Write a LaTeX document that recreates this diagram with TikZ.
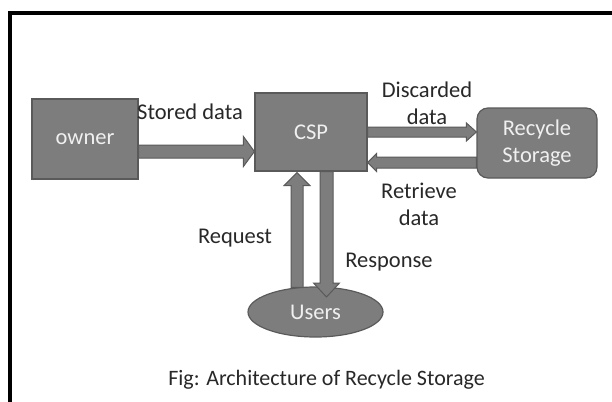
\documentclass[tikz,border=0pt]{standalone}
\usepackage{fontspec}
\setmainfont{Carlito}
\usetikzlibrary{calc,shapes.geometric}
\definecolor{boxgray}{RGB}{125,125,125}
\definecolor{boxedge}{RGB}{90,90,90}
\definecolor{txtdark}{RGB}{40,40,40}
\tikzset{
  blk/.style={draw=boxedge, fill=boxgray, line width=1.2pt, text=white!94!black, font=\fontsize{22.5}{27}\selectfont, inner sep=0pt, align=center},
  lbl/.style={text=txtdark, font=\fontsize{22.5}{27}\selectfont, inner sep=0pt, align=center},
  arr/.style={draw=boxedge, fill=boxgray, line width=1pt, line join=miter},
}
% block arrow: #1 start, #2 end, #3 half shaft, #4 half head, #5 head length
\newcommand\blockarrow[5]{%
  \coordinate (ba-s) at #1;
  \coordinate (ba-e) at #2;
  \coordinate (ba-c) at ($(ba-e)!#5!(ba-s)$);
  \path[arr] ($(ba-s)!#3!90:(ba-e)$) -- ($(ba-c)!#3!90:(ba-e)$) -- ($(ba-c)!#4!90:(ba-e)$)
    -- (ba-e) -- ($(ba-c)!#4!-90:(ba-e)$) -- ($(ba-c)!#3!-90:(ba-e)$) -- ($(ba-s)!#3!-90:(ba-e)$) -- cycle;
}
\begin{document}
\begin{tikzpicture}[x=1pt,y=-1pt]
\useasboundingbox (0,0) rectangle (612,401);
\fill[white] (0,0) rectangle (612,401);
% frame
\draw[line width=3.6pt, black] (10,403) -- (10,13) -- (614,13);
% nodes
\node[blk, minimum width=106pt, minimum height=80pt] (owner) at (85,139) {owner};
\node[blk, minimum width=112pt, minimum height=78pt] (csp) at (311,132) {CSP};
\node[blk, rounded corners=11pt, minimum width=120pt, minimum height=70pt] (rs) at (537,143) {Recycle\\Storage};
\node[blk, ellipse, minimum width=135pt, minimum height=50pt] (users) at (315.5,312) {Users};
% connectors
\blockarrow{([yshift=-12.5pt]owner.east)}{([yshift=-12.5pt]owner.east -| csp.west)}{6.5pt}{15pt}{11pt}
\blockarrow{(csp.east)}{(csp.east -| rs.west)}{5pt}{9pt}{10pt}
\blockarrow{([yshift=-19.5pt]rs.west)}{([yshift=-19.5pt]rs.west -| csp.east)}{5.5pt}{9pt}{9pt}
\blockarrow{([xshift=-18.5pt,yshift=-1pt]users.north)}{([xshift=-18.5pt,yshift=-1pt]users.north |- csp.south)}{6pt}{13pt}{13pt}
\blockarrow{([xshift=15.5pt]csp.south)}{([xshift=15.5pt]csp.south |- 0,297)}{6.5pt}{13pt}{14pt}
% labels
\node[lbl] (l1) at (190,112) {Stored data};
\node[lbl] (l2) at (427,103.5) {Discarded\\data};
\node[lbl] (l3) at (419,204.5) {Retrieve\\data};
\node[lbl] (l4) at (235,238) {Request};
\node[lbl] (l5) at (389,262) {Response};
\node[lbl, font=\fontsize{22}{26}\selectfont] (cap) at (326.5,380) {Fig: Architecture of Recycle Storage};
\end{tikzpicture}
\end{document}
